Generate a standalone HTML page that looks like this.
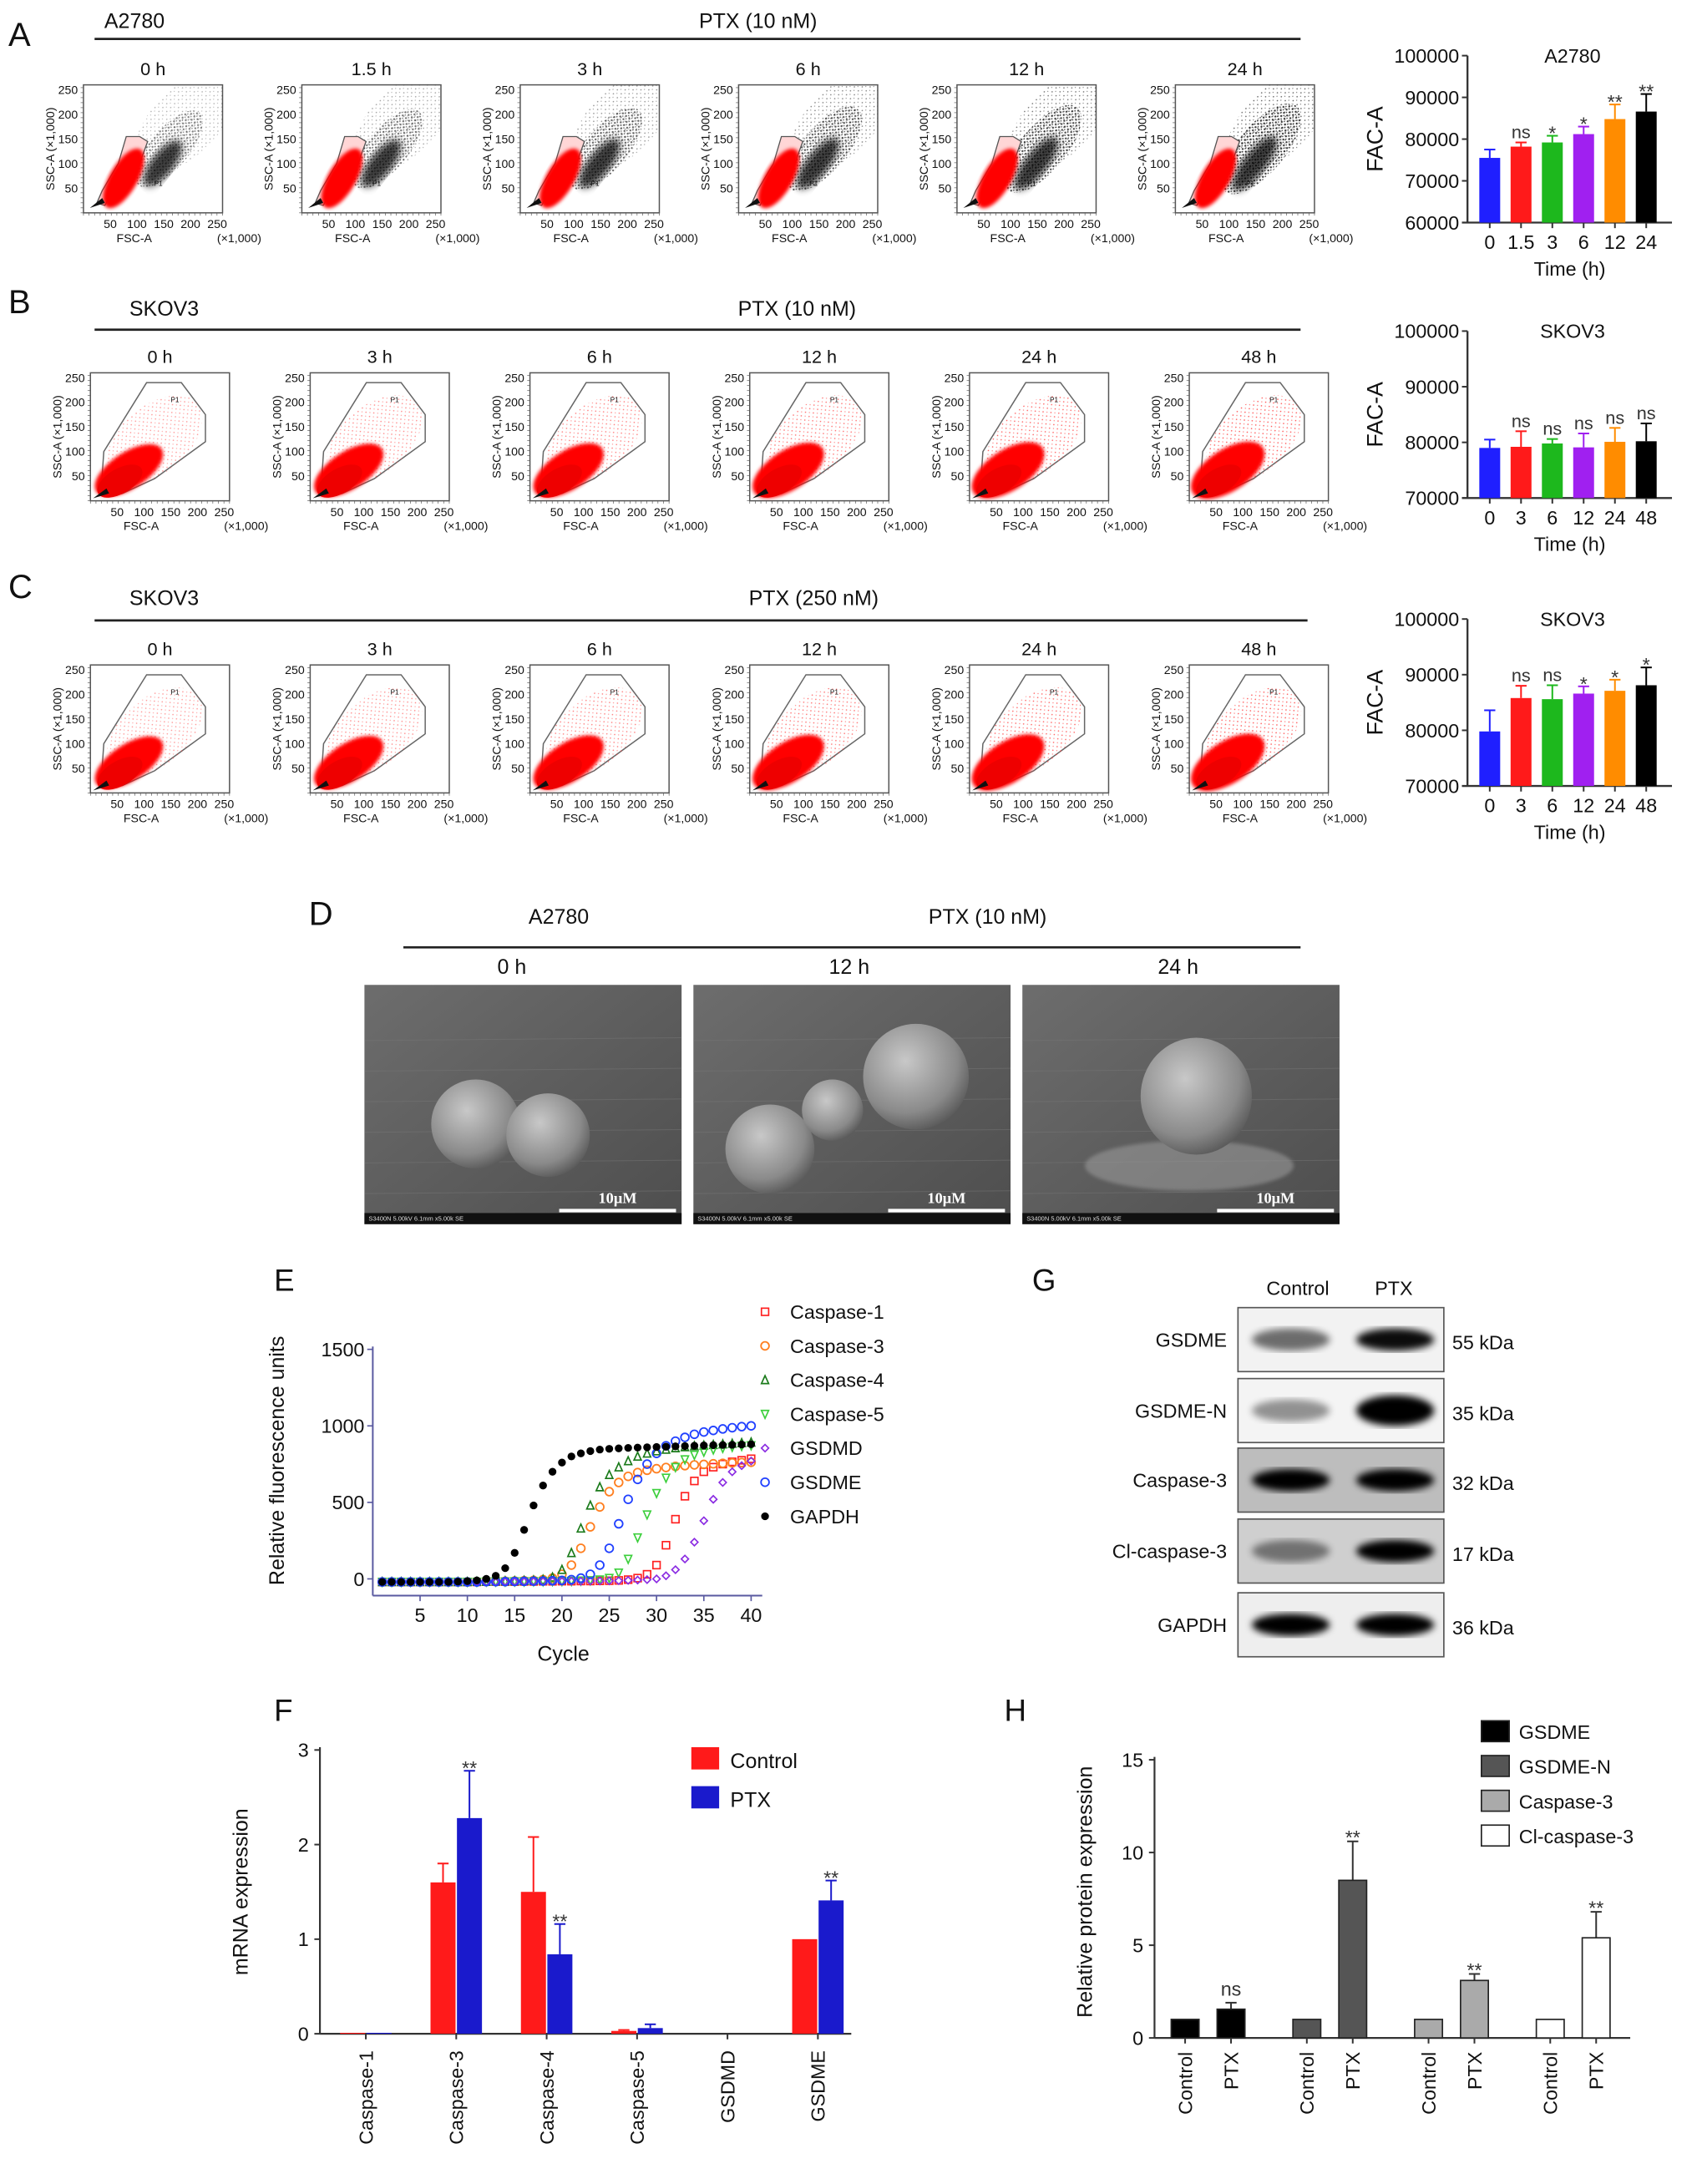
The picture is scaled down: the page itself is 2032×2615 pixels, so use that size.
<!DOCTYPE html>
<html><head><meta charset="utf-8"><style>
html,body{margin:0;padding:0;background:#fff;}
svg{display:block;font-family:"Liberation Sans",Arial,sans-serif;}
</style></head><body>
<svg id="fig" width="2032" height="2615" viewBox="0 0 1220 1570" preserveAspectRatio="none" xmlns="http://www.w3.org/2000/svg">
<defs>
<filter id="blur1"><feGaussianBlur stdDeviation="2.5"/></filter>
<filter id="blur2"><feGaussianBlur stdDeviation="1.2"/></filter>
<filter id="blur3"><feGaussianBlur stdDeviation="4"/></filter>
<pattern id="dotsK" width="3" height="3" patternUnits="userSpaceOnUse"><circle cx="1" cy="1" r="0.7" fill="#000"/><circle cx="2.4" cy="2.2" r="0.5" fill="#111"/></pattern>
<pattern id="dotsK2" width="4" height="4" patternUnits="userSpaceOnUse"><circle cx="1" cy="1" r="0.5" fill="#222"/><circle cx="3" cy="2.6" r="0.4" fill="#333"/></pattern>
<pattern id="dotsR" width="4" height="4" patternUnits="userSpaceOnUse"><circle cx="1" cy="1" r="0.5" fill="#f33"/><circle cx="3" cy="3" r="0.4" fill="#f55"/></pattern>
<radialGradient id="cellg" cx="0.4" cy="0.35" r="0.7"><stop offset="0" stop-color="#c8c8c8"/><stop offset="0.7" stop-color="#8a8a8a"/><stop offset="1" stop-color="#555"/></radialGradient>
<linearGradient id="semBg" x1="0" y1="0" x2="1" y2="1"><stop offset="0" stop-color="#6d6d6d"/><stop offset="1" stop-color="#4e4e4e"/></linearGradient>
</defs>
<g id="root"></g>
</svg>
<script>
// ---------- Panel A/B/C bar charts data ----------
const barATimes = ['0','1.5','3','6','12','24'];
const barAValues = [75500, 78200, 79200, 81200, 84800, 86600];
const barAErrors = [2000, 1000, 1600, 1800, 3500, 4200];
const barASig = ['', 'ns', '*', '*', '**', '**'];
const barATicks = [60000, 70000, 80000, 90000, 100000];

const barBTimes = ['0','3','6','12','24','48'];
const barBValues = [79000, 79200, 79800, 79100, 80100, 80200];
const barBErrors = [1500, 2800, 800, 2500, 2500, 3200];
const barBSig = ['', 'ns', 'ns', 'ns', 'ns', 'ns'];
const barBTicks = [70000, 80000, 90000, 100000];

const barCTimes = ['0','3','6','12','24','48'];
const barCValues = [79800, 85800, 85600, 86600, 87100, 88100];
const barCErrors = [3800, 2200, 2500, 1300, 2000, 3200];
const barCSig = ['', 'ns', 'ns', '*', '*', '*'];
const barCTicks = [70000, 80000, 90000, 100000];

const timeColors = ['#1f1fff','#ff1a1a','#1db81d','#a020f0','#ff8c00','#000000'];

// ---------- Panel E qPCR curves ----------
const eCycles = [1,2,3,4,5,6,7,8,9,10,11,12,13,14,15,16,17,18,19,20,21,22,23,24,25,26,27,28,29,30,31,32,33,34,35,36,37,38,39,40];
const eXTicks = [5,10,15,20,25,30,35,40];
const eYTicks = [0,500,1000,1500];
const eGenes = ['Caspase-1','Caspase-3','Caspase-4','Caspase-5','GSDMD','GSDME','GAPDH'];
const eCasp1 = [-20,-20,-20,-20,-20,-20,-20,-20,-20,-20,-20,-18,-18,-18,-18,-17,-17,-16,-16,-15,-15,-14,-14,-13,-12,-10,-5,5,30,90,220,390,540,640,700,730,750,765,775,785];
const eCasp3 = [-20,-20,-20,-20,-20,-20,-20,-20,-20,-20,-18,-18,-16,-15,-14,-12,-10,-5,5,30,90,200,340,470,570,630,670,695,710,720,728,735,740,745,748,752,755,758,760,762];
const eCasp4 = [-20,-20,-20,-20,-20,-20,-20,-20,-20,-20,-18,-18,-16,-15,-14,-12,-10,-5,10,60,170,330,480,600,680,730,770,800,820,835,845,855,862,868,872,876,880,884,888,892];
const eCasp5 = [-20,-20,-20,-20,-20,-20,-20,-20,-20,-20,-20,-18,-18,-18,-17,-17,-16,-16,-15,-15,-14,-12,-10,-5,5,40,130,270,420,560,660,730,780,810,830,845,855,862,868,872];
const eGsdmd = [-20,-20,-20,-20,-20,-20,-20,-20,-20,-20,-20,-20,-20,-18,-18,-18,-17,-17,-16,-16,-15,-15,-14,-14,-13,-12,-10,-8,-5,0,20,60,130,240,380,520,630,700,740,770];
const eGsdme = [-20,-20,-20,-20,-20,-20,-20,-20,-20,-20,-20,-18,-18,-18,-17,-16,-15,-14,-12,-10,-5,5,30,90,200,360,520,650,750,820,870,900,925,945,960,970,980,988,995,1000];
const eGapdh = [-20,-20,-20,-20,-20,-20,-20,-20,-18,-15,-10,0,20,70,170,320,480,610,700,760,800,820,835,845,850,853,856,858,860,862,864,866,868,870,872,874,875,876,878,880];

// ---------- Panel F ----------
const fGenes = ['Caspase-1','Caspase-3','Caspase-4','Caspase-5','GSDMD','GSDME'];
const fControl = [0.01, 1.6, 1.5, 0.03, 0, 1.0];
const fControlErr = [0, 0.2, 0.58, 0.01, 0, 0];
const fPTX = [0.01, 2.28, 0.84, 0.06, 0, 1.41];
const fPTXErr = [0, 0.5, 0.32, 0.04, 0, 0.21];
const fSig = ['', '**', '**', '', '', '**'];
const fYTicks = [0,1,2,3];

// ---------- Panel H ----------
const hProteins = ['GSDME','GSDME-N','Caspase-3','Cl-caspase-3'];
const hControl = [1, 1, 1, 1];
const hPTX = [1.55, 8.5, 3.1, 5.4];
const hPTXErr = [0.35, 2.1, 0.35, 1.4];
const hSig = ['ns', '**', '**', '**'];
const hYTicks = [0,5,10,15];
const hColors = ['#000','#555','#aaa','#fff'];

const NS = 'http://www.w3.org/2000/svg';
const root = document.getElementById('root');
function el(tag, attrs, parent, text) {
  const e = document.createElementNS(NS, tag);
  for (const k in attrs) e.setAttribute(k, attrs[k]);
  if (text !== undefined) e.textContent = text;
  (parent || root).appendChild(e);
  return e;
}
function txt(x, y, s, size, anchor, parent, extra) {
  const a = {x: x, y: y, 'font-size': size, 'text-anchor': anchor || 'start', fill: '#111'};
  if (extra) for (const k in extra) a[k] = extra[k];
  return el('text', a, parent, s);
}

// ---------- Panel headers ----------
function header(letter, lx, ly, cell, cx, cy, ptx, px, py, lineX1, lineX2, lineY, name) {
  const g = el('g', {});
  
  
  txt(lx, ly, letter, 24, 'start', g);
  txt(cx, cy, cell, 15, 'start', g);
  txt(px, py, ptx, 15, 'middle', g);
  el('line', {x1: lineX1, x2: lineX2, y1: lineY, y2: lineY, stroke: '#222', 'stroke-width': 1.6}, g);
}
header('A', 6, 33, 'A2780', 75, 20, 'PTX (10 nM)', 545, 20, 68, 935, 28, 'panel-a-header');
header('B', 6, 225, 'SKOV3', 93, 227, 'PTX (10 nM)', 573, 227, 68, 935, 237, 'panel-b-header');
header('C', 6, 430, 'SKOV3', 93, 435, 'PTX (250 nM)', 585, 435, 68, 940, 446, 'panel-c-header');
header('D', 222, 665, 'A2780', 380, 664, 'PTX (10 nM)', 710, 664, 290, 935, 681, 'panel-d-header');

// ---------- Flow scatter panels ----------
function flow(x0, y0, title, type, size, name) {
  const g = el('g', {});
  
  
  const w = 100, h = 92;
  txt(x0 + w / 2, y0 - 7, title, 13, 'middle', g);
  el('rect', {x: x0, y: y0, width: w, height: h, fill: '#fff', stroke: '#555', 'stroke-width': 0.9}, g);
  for (let i = 0; i <= 25; i++) {
    el('line', {x1: x0 + i * 4, x2: x0 + i * 4, y1: y0 + h, y2: y0 + h + 2, stroke: '#555', 'stroke-width': 0.4}, g);
    if (i * 3.6 <= h) el('line', {x1: x0, x2: x0 - 2, y1: y0 + h - i * 3.6, y2: y0 + h - i * 3.6, stroke: '#555', 'stroke-width': 0.4}, g);
  }
  const sx = v => x0 + v / 260 * w, sy = v => y0 + h - v / 260 * h;
  [50,100,150,200,250].forEach(v => {
    txt(sx(v), y0 + h + 11, String(v), 8.5, 'middle', g);
    txt(x0 - 4, sy(v) + 3, String(v), 8.5, 'end', g);
  });
  txt(sx(95), y0 + h + 21, 'FSC-A', 8.5, 'middle', g);
  txt(x0 + w + 12, y0 + h + 21, '(×1,000)', 8.5, 'middle', g);
  txt(0, 0, 'SSC-A (×1,000)', 8.5, 'middle', g, {transform: `translate(${x0 - 21},${y0 + h / 2}) rotate(-90)`});
  const clip = 'clip-' + name;
  const cp = el('clipPath', {id: clip}, g);
  el('rect', {x: x0, y: y0, width: w, height: h}, cp);
  const inner = el('g', {'clip-path': `url(#${clip})`}, g);
  if (type === 'A') {
    el('ellipse', {cx: sx(190), cy: sy(185), rx: 45, ry: 24, transform: `rotate(-45 ${sx(190)} ${sy(185)})`, fill: 'url(#dotsK2)', opacity: 0.35 + size * 0.35}, inner);
    el('ellipse', {cx: sx(160), cy: sy(130), rx: 34 + size * 6, ry: 14 + size * 3, transform: `rotate(-50 ${sx(160)} ${sy(130)})`, fill: 'url(#dotsK)', opacity: 0.5 + size * 0.3}, inner);
    el('ellipse', {cx: sx(148), cy: sy(100), rx: 20 + size * 4, ry: 8, transform: `rotate(-52 ${sx(148)} ${sy(100)})`, fill: '#000', opacity: 0.75, filter: 'url(#blur1)'}, inner);
    const pts = [[30,15],[40,35],[90,85],[110,145],[95,155],[70,155],[55,100],[25,45],[15,20]];
    const gate = pts.map(p => sx(p[0] + 10) + ',' + sy(p[1])).join(' ');
    el('polygon', {points: gate, fill: '#ffd6d6', stroke: '#555', 'stroke-width': 0.8}, inner);
    el('ellipse', {cx: sx(75), cy: sy(70), rx: 24, ry: 10, transform: `rotate(-60 ${sx(75)} ${sy(70)})`, fill: '#f00', filter: 'url(#blur2)'}, inner);
    el('polygon', {points: `${sx(12)},${sy(10)} ${sx(35)},${sy(30)} ${sx(40)},${sy(20)}`, fill: '#111'}, inner);
    txt(sx(132), sy(55), 'P1', 5, 'start', inner);
  } else {
    const pts = [[35,10],[20,20],[25,100],[105,240],[170,240],[215,175],[215,120],[120,45],[60,15]];
    const gate = pts.map(p => sx(p[0]) + ',' + sy(p[1])).join(' ');
    el('polygon', {points: gate, fill: '#fff', stroke: '#666', 'stroke-width': 0.9}, inner);
    el('ellipse', {cx: sx(120), cy: sy(125), rx: 40, ry: 24, transform: `rotate(-40 ${sx(120)} ${sy(125)})`, fill: 'url(#dotsR)', opacity: 0.5 + 0.3 * size}, inner);
    el('ellipse', {cx: sx(72), cy: sy(62), rx: 28 + size * 2, ry: 13 + size * 2, transform: `rotate(-33 ${sx(72)} ${sy(62)})`, fill: '#f00', filter: 'url(#blur2)'}, inner);
    el('ellipse', {cx: sx(55), cy: sy(40), rx: 18, ry: 9, transform: `rotate(-30 ${sx(55)} ${sy(40)})`, fill: '#e00'}, inner);
    el('polygon', {points: `${sx(5)},${sy(5)} ${sx(30)},${sy(25)} ${sx(35)},${sy(15)}`, fill: '#111'}, inner);
    txt(sx(150), sy(200), 'P1', 5, 'start', inner);
  }
}
const aTitles = ['0 h','1.5 h','3 h','6 h','12 h','24 h'];
aTitles.forEach((t, i) => flow(60 + i * 157, 61, t, 'A', i / 5, 'flow-a-' + i));
const bTitles = ['0 h','3 h','6 h','12 h','24 h','48 h'];
bTitles.forEach((t, i) => flow(65 + i * 158, 268, t, 'B', i / 5, 'flow-b-' + i));
bTitles.forEach((t, i) => flow(65 + i * 158, 478, t, 'B', i / 5, 'flow-c-' + i));

// ---------- Time bar charts ----------
function timeBars(cats, vals, errs, sig, ticks, ymin, ymax, axX, yTop, yBot, title, name) {
  const g = el('g', {});
  
  
  const xEnd = axX + 147;
  const sy = v => yBot - (v - ymin) / (ymax - ymin) * (yBot - yTop);
  const step = (xEnd - axX - 12) / cats.length;
  const sx = i => axX + 16 + step * i;
  el('line', {x1: axX, x2: axX, y1: yTop, y2: yBot, stroke: '#333', 'stroke-width': 1.4}, g);
  el('line', {x1: axX - 4, x2: xEnd, y1: yBot, y2: yBot, stroke: '#333', 'stroke-width': 1.4}, g);
  ticks.forEach(t => {
    el('line', {x1: axX - 4, x2: axX, y1: sy(t), y2: sy(t), stroke: '#333', 'stroke-width': 1.2}, g);
    txt(axX - 6, sy(t) + 5, String(t), 14, 'end', g);
  });
  txt((axX + xEnd) / 2 + 2, yTop + 5, title, 14, 'middle', g);
  txt(0, 0, 'FAC-A', 16, 'middle', g, {transform: `translate(${axX - 61},${(yTop + yBot) / 2}) rotate(-90)`});
  txt((axX + xEnd) / 2, yBot + 38, 'Time (h)', 14, 'middle', g);
  cats.forEach((c, i) => {
    const x = sx(i), bw = 15;
    const col = timeColors[i];
    const yv = sy(vals[i]), ye = sy(vals[i] + errs[i]);
    el('line', {x1: x, x2: x, y1: ye, y2: yv, stroke: col, 'stroke-width': 1.2}, g);
    el('line', {x1: x - 4, x2: x + 4, y1: ye, y2: ye, stroke: col, 'stroke-width': 1.2}, g);
    const b = el('rect', {x: x - bw / 2, y: yv, width: bw, height: yBot - yv, fill: col}, g);
    
    
    el('line', {x1: x, x2: x, y1: yBot, y2: yBot + 4, stroke: '#333', 'stroke-width': 1.2}, g);
    txt(x, yBot + 19, c, 14, 'middle', g);
    if (sig[i]) txt(x, ye - 3 + (sig[i] === 'ns' ? 0 : 6), sig[i], sig[i] === 'ns' ? 13 : 14, 'middle', g, {fill: '#333'});
  });
}
timeBars(barATimes, barAValues, barAErrors, barASig, barATicks, 60000, 100000, 1055, 40, 160, 'A2780', 'bar-chart-a');
timeBars(barBTimes, barBValues, barBErrors, barBSig, barBTicks, 70000, 100000, 1055, 238, 358, 'SKOV3', 'bar-chart-b');
timeBars(barCTimes, barCValues, barCErrors, barCSig, barCTicks, 70000, 100000, 1055, 445, 565, 'SKOV3', 'bar-chart-c');

// ---------- Panel D SEM images ----------
const dTitles = ['0 h','12 h','24 h'];
dTitles.forEach((t, i) => {
  const x0 = 262 + i * 236.5, y0 = 708, w = 228, h = 172;
  const g = el('g', {});
  
  
  txt(x0 + w / 2 - 2 + (i === 0 ? -6 : 0), 700, t, 15, 'middle', g);
  el('rect', {x: x0, y: y0, width: w, height: h, fill: 'url(#semBg)'}, g);
  for (let k = 0; k < 6; k++) el('line', {x1: x0, x2: x0 + w, y1: y0 + 40 + k * 22, y2: y0 + 38 + k * 22, stroke: '#777', 'stroke-width': 0.6, opacity: 0.5}, g);
  if (i === 0) {
    el('circle', {cx: x0 + 80, cy: y0 + 100, r: 32, fill: 'url(#cellg)'}, g);
    el('circle', {cx: x0 + 132, cy: y0 + 108, r: 30, fill: 'url(#cellg)'}, g);
  } else if (i === 1) {
    el('circle', {cx: x0 + 55, cy: y0 + 118, r: 32, fill: 'url(#cellg)'}, g);
    el('circle', {cx: x0 + 100, cy: y0 + 90, r: 22, fill: 'url(#cellg)'}, g);
    el('circle', {cx: x0 + 160, cy: y0 + 66, r: 38, fill: 'url(#cellg)'}, g);
  } else {
    el('ellipse', {cx: x0 + 120, cy: y0 + 130, rx: 75, ry: 18, fill: '#999', opacity: 0.6, filter: 'url(#blur2)'}, g);
    el('ellipse', {cx: x0 + 125, cy: y0 + 80, rx: 40, ry: 42, fill: 'url(#cellg)'}, g);
  }
  el('rect', {x: x0, y: y0 + h - 8, width: w, height: 8, fill: '#111'}, g);
  txt(x0 + 3, y0 + h - 2.5, 'S3400N 5.00kV 6.1mm x5.00k SE', 4.5, 'start', g, {fill: '#ddd'});
  el('rect', {x: x0 + 140, y: y0 + h - 11, width: 84, height: 2.5, fill: '#fff'}, g);
  txt(x0 + 182, y0 + h - 15, '10μM', 11, 'middle', g, {fill: '#fff', 'font-family': '"Liberation Serif",serif', 'font-weight': 'bold'});
});

// ---------- Panel E ----------
(function () {
  const g = el('g', {});
  
  
  txt(197, 928, 'E', 22, 'start', g);
  const x0 = 268, sxv = c => x0 + c * 6.8, syv = v => 1135 - v / 1500 * 165;
  el('line', {x1: x0, x2: x0, y1: 968, y2: 1147, stroke: '#5a5aa0', 'stroke-width': 1.2}, g);
  el('line', {x1: x0, x2: 548, y1: 1147, y2: 1147, stroke: '#5a5aa0', 'stroke-width': 1.2}, g);
  eYTicks.forEach(t => {
    el('line', {x1: x0 - 4, x2: x0, y1: syv(t), y2: syv(t), stroke: '#5a5aa0', 'stroke-width': 1}, g);
    txt(x0 - 6, syv(t) + 5, String(t), 14, 'end', g);
  });
  eXTicks.forEach(t => {
    el('line', {x1: sxv(t), x2: sxv(t), y1: 1147, y2: 1151, stroke: '#5a5aa0', 'stroke-width': 1}, g);
    txt(sxv(t), 1166, String(t), 14, 'middle', g);
  });
  txt(405, 1194, 'Cycle', 15, 'middle', g);
  txt(0, 0, 'Relative fluorescence units', 15, 'middle', g, {transform: 'translate(204,1050) rotate(-90)'});
  const series = [eCasp1, eCasp3, eCasp4, eCasp5, eGsdmd, eGsdme, eGapdh];
  const cols = ['#ff2020','#ff7f20','#1a7a1a','#3ccf3c','#8a2be2','#2040ff','#000'];
  function marker(type, x, y, col, parent) {
    const s = 2.6;
    if (type === 0) return el('rect', {x: x - s, y: y - s, width: 2 * s, height: 2 * s, fill: 'none', stroke: col, 'stroke-width': 1}, parent);
    if (type === 1 || type === 5) return el('circle', {cx: x, cy: y, r: s + 0.3, fill: 'none', stroke: col, 'stroke-width': 1.1}, parent);
    if (type === 2) return el('polygon', {points: `${x},${y - s - 0.5} ${x - s},${y + s} ${x + s},${y + s}`, fill: 'none', stroke: col, 'stroke-width': 1}, parent);
    if (type === 3) return el('polygon', {points: `${x},${y + s + 0.5} ${x - s},${y - s} ${x + s},${y - s}`, fill: 'none', stroke: col, 'stroke-width': 1}, parent);
    if (type === 4) return el('polygon', {points: `${x},${y - s} ${x + s},${y} ${x},${y + s} ${x - s},${y}`, fill: 'none', stroke: col, 'stroke-width': 1}, parent);
    return el('circle', {cx: x, cy: y, r: s + 0.2, fill: col}, parent);
  }
  series.forEach((arr, si) => {
    const sg = el('g', {}, g);
    
    
    arr.forEach((v, ci) => marker(si, sxv(eCycles[ci]), syv(v), cols[si], sg));
  });
  eGenes.forEach((name, i) => {
    const y = 943 + i * 24.5;
    const lg = el('g', {}, g);
    
    
    marker(i, 550, y, cols[i], lg);
    txt(568, y + 5, name, 14, 'start', lg);
  });
})();

// ---------- Panel G western blot ----------
(function () {
  const g = el('g', {});
  
  
  txt(742, 928, 'G', 22, 'start', g);
  txt(933, 931, 'Control', 14, 'middle', g);
  txt(1002, 931, 'PTX', 14, 'middle', g);
  const rows = [['GSDME','55 kDa',940,[0.55,0.95],'#f2f2f2'],['GSDME-N','35 kDa',991,[0.4,1],'#f4f4f4'],['Caspase-3','32 kDa',1041,[1,1],'#bdbdbd'],['Cl-caspase-3','17 kDa',1092,[0.45,1],'#cfcfcf'],['GAPDH','36 kDa',1145,[1,1],'#eee']];
  rows.forEach(r => {
    const y = r[2], h = 46;
    txt(882, y + h / 2 + 5, r[0], 14, 'end', g);
    txt(1044, y + h / 2 + 7, r[1], 14, 'start', g);
    el('rect', {x: 890, y: y, width: 148, height: h, fill: r[4], stroke: '#555', 'stroke-width': 1}, g);
    el('ellipse', {cx: 928, cy: y + h / 2, rx: 28, ry: 8, fill: '#000', opacity: r[3][0], filter: 'url(#blur1)'}, g);
    el('ellipse', {cx: 1003, cy: y + h / 2, rx: 28, ry: r[0] === 'GSDME-N' ? 11 : 8, fill: '#000', opacity: r[3][1], filter: 'url(#blur1)'}, g);
  });
})();

// ---------- Panel F ----------
(function () {
  const g = el('g', {});
  
  
  txt(197, 1237, 'F', 22, 'start', g);
  const x0 = 230, yB = 1462, sy = v => yB - v * 68;
  el('line', {x1: x0, x2: x0, y1: 1256, y2: yB, stroke: '#333', 'stroke-width': 1.3}, g);
  el('line', {x1: x0, x2: 612, y1: yB, y2: yB, stroke: '#333', 'stroke-width': 1.3}, g);
  fYTicks.forEach(t => {
    el('line', {x1: x0 - 4, x2: x0, y1: sy(t), y2: sy(t), stroke: '#333', 'stroke-width': 1.2}, g);
    txt(x0 - 8, sy(t) + 5, String(t), 14, 'end', g);
  });
  txt(0, 0, 'mRNA expression', 15, 'middle', g, {transform: 'translate(178,1360) rotate(-90)'});
  const cx = i => 263 + i * 65;
  fGenes.forEach((name, i) => {
    const xc = cx(i), bw = 18;
    [[fControl, fControlErr, '#ff1a1a', -bw / 2 - 0.5], [fPTX, fPTXErr, '#1a1acc', bw / 2 + 0.5]].forEach((s, j) => {
      const v = s[0][i], e = s[1][i], x = xc + s[3];
      if (e > 0) {
        el('line', {x1: x, x2: x, y1: sy(v + e), y2: sy(v), stroke: s[2], 'stroke-width': 1.2}, g);
        el('line', {x1: x - 4, x2: x + 4, y1: sy(v + e), y2: sy(v + e), stroke: s[2], 'stroke-width': 1.2}, g);
      }
      const b = el('rect', {x: x - bw / 2, y: sy(v), width: bw, height: Math.max(0, yB - sy(v)), fill: s[2]}, g);
      
      
      if (j === 1 && fSig[i]) txt(x, sy(v + e) - 3 + 6, fSig[i], 14, 'middle', g, {fill: '#333'});
    });
    el('line', {x1: xc, x2: xc, y1: yB, y2: yB + 4, stroke: '#333', 'stroke-width': 1.2}, g);
    txt(0, 0, name, 14, 'end', g, {transform: `translate(${xc + 5},${yB + 12}) rotate(-90)`});
  });
  el('rect', {x: 497, y: 1256, width: 20, height: 16, fill: '#ff1a1a'}, g);
  txt(525, 1271, 'Control', 15, 'start', g);
  el('rect', {x: 497, y: 1284, width: 20, height: 16, fill: '#1a1acc'}, g);
  txt(525, 1299, 'PTX', 15, 'start', g);
})();

// ---------- Panel H ----------
(function () {
  const g = el('g', {});
  
  
  txt(722, 1237, 'H', 22, 'start', g);
  const x0 = 830, yB = 1465, sy = v => yB - v * 13.33;
  el('line', {x1: x0, x2: x0, y1: 1263, y2: yB, stroke: '#333', 'stroke-width': 1.3}, g);
  el('line', {x1: x0, x2: 1172, y1: yB, y2: yB, stroke: '#333', 'stroke-width': 1.3}, g);
  hYTicks.forEach(t => {
    el('line', {x1: x0 - 4, x2: x0, y1: sy(t), y2: sy(t), stroke: '#333', 'stroke-width': 1.2}, g);
    txt(x0 - 8, sy(t) + 5, String(t), 14, 'end', g);
  });
  txt(0, 0, 'Relative protein expression', 15, 'middle', g, {transform: 'translate(785,1360) rotate(-90)'});
  hProteins.forEach((name, i) => {
    const base = 852 + i * 87.5, bw = 20;
    [[hControl[i], 0, base, 'Control'], [hPTX[i], hPTXErr[i], base + 33, 'PTX']].forEach((s, j) => {
      const x = s[2], v = s[0], e = s[1];
      if (e > 0) {
        el('line', {x1: x, x2: x, y1: sy(v + e), y2: sy(v), stroke: '#333', 'stroke-width': 1.2}, g);
        el('line', {x1: x - 4, x2: x + 4, y1: sy(v + e), y2: sy(v + e), stroke: '#333', 'stroke-width': 1.2}, g);
      }
      const b = el('rect', {x: x - bw / 2, y: sy(v), width: bw, height: yB - sy(v), fill: hColors[i], stroke: '#222', 'stroke-width': 1}, g);
      
      
      if (j === 1) txt(x, sy(v + e) - (hSig[i] === 'ns' ? 5 : -2), hSig[i], 14, 'middle', g, {fill: '#333'});
      el('line', {x1: x, x2: x, y1: yB, y2: yB + 4, stroke: '#333', 'stroke-width': 1.2}, g);
      txt(0, 0, s[3], 14, 'end', g, {transform: `translate(${x + 5},${yB + 10}) rotate(-90)`});
    });
  });
  hProteins.forEach((name, i) => {
    const y = 1237 + i * 25;
    const lg = el('g', {}, g);
    
    
    el('rect', {x: 1065, y: y, width: 20, height: 15, fill: hColors[i], stroke: '#222', 'stroke-width': 1}, lg);
    txt(1092, y + 13, name, 14, 'start', lg);
  });
})();
</script>
</body></html>
